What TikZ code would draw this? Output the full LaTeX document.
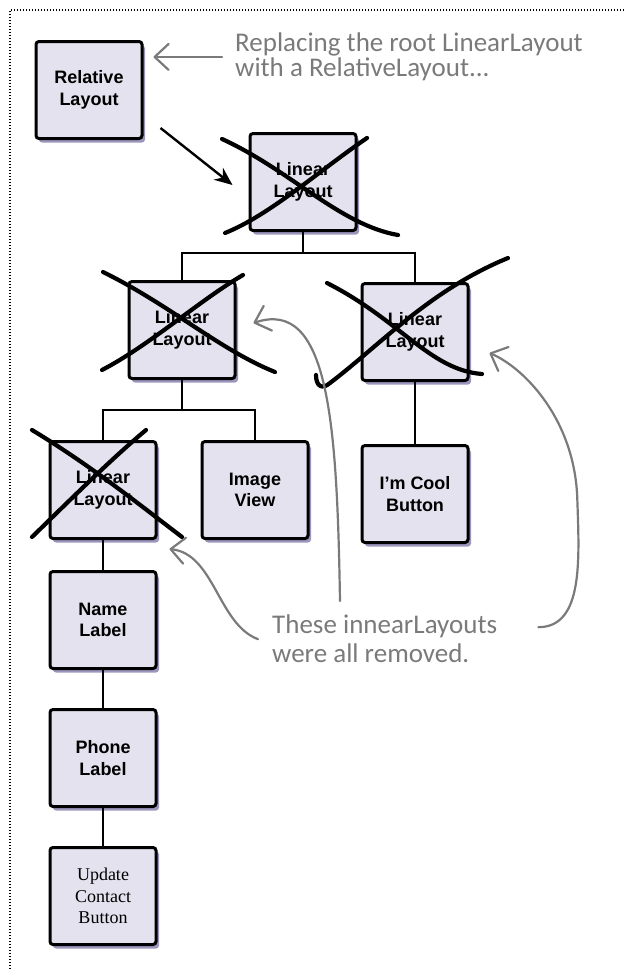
\documentclass[tikz,border=0pt]{standalone}
\usepackage{fontspec}
\setmainfont{Liberation Sans}
\newfontfamily\handfont{Carlito}
\newfontfamily\serifbox{Liberation Serif}
\usepackage{xcolor}
\usepackage{tikz}
\usetikzlibrary{arrows.meta, positioning, shadows}
\definecolor{boxfill}{HTML}{E4E2EE}
\definecolor{boxshade}{HTML}{8A84B0}
\definecolor{notegray}{HTML}{7A7A7A}
\tikzstyle{layoutbox} = [
    rectangle,
    rounded corners=3pt,
    minimum width=106pt,
    minimum height=97pt,
    inner sep=0pt,
    align=center,
    draw=black,
    line width=3pt,
    fill=boxfill,
    drop shadow={shadow xshift=3pt, shadow yshift=-4pt, fill=boxshade, opacity=0.85},
    font=\bfseries\fontsize{18}{21.5}\selectfont
]
\tikzstyle{wire} = [
    line width=1.3pt
]
\tikzstyle{arrow} = [
    line width=2.4pt,
    -{Stealth[length=18pt, width=15pt]}
]
\tikzstyle{cross} = [
    line width=4.2pt,
    line cap=round
]
\tikzstyle{note} = [
    inner sep=0pt,
    align=left,
    text=notegray,
    font=\handfont\fontsize{27}{23}\selectfont
]
\tikzstyle{notearrow} = [
    draw=notegray,
    line width=2.2pt,
    line cap=round,
    -{Straight Barb[length=14pt, width=26pt, round]}
]
\tikzstyle{border} = [
    line width=1.4pt,
    dash pattern=on 1.2pt off 1.8pt
]

\begin{document}
\begin{tikzpicture}[
    x=1pt,
    y=-1pt
]

\useasboundingbox (0,0) rectangle (625,969);

\draw [border] (10,969) -- (10,10) -- (625,10);

\node (rel) [layoutbox] at (89,90)
{Relative\\Layout};

\node (linA) [layoutbox] at (303,182)
{Linear\\Layout};

\node (linB) [layoutbox] at (182,330)
{Linear\\Layout};

\node (linC) [layoutbox] at (415,332)
{Linear\\Layout};

\node (linD) [layoutbox] at (103,490)
{Linear\\Layout};

\node (img) [layoutbox, right=43pt of linD]
{Image\\View};

\node (cool) [layoutbox, below=62pt of linC]
{I'm Cool\\Button};

\node (name) [layoutbox, below=30pt of linD]
{Name\\Label};

\node (phone) [layoutbox, below=38pt of name]
{Phone\\Label};

\node (update) [layoutbox, below=38pt of phone,
    font=\serifbox\fontsize{18}{21.5}\selectfont]
{Update\\Contact\\Button};

\node (replace) [note, anchor=north west] at (235,33)
{Replacing the root LinearLayout\\with a RelativeLayout...};

\node (removed) [note, anchor=north west, font=\handfont\fontsize{27}{29}\selectfont] at (272,615)
{These innearLayouts\\were all removed.};

% tree lines
\coordinate (forkA) at ([yshift=-21pt]linA.south);
\coordinate (forkB) at ([yshift=-30pt]linB.south);

\draw [wire] (linA.south) -- (forkA);

\draw [wire] (linB.north) |- (forkA) -| (linC.north);

\draw [wire] (linB.south) -- (forkB);

\draw [wire] (linD.north) |- (forkB) -| (img.north);

\draw [wire] (linC) -- (cool);

\draw [wire] (linD) -- (name);

\draw [wire] (name) -- (phone);

\draw [wire] (phone) -- (update);

\draw [arrow]
([shift={(17,-12)}]rel.south east) -- ([shift={(-16,3)}]linA.west);

% crossed out layouts
\draw [cross] (222,139) .. controls (290,170) and (340,225) .. (398,235);
\draw [cross] (367,138) .. controls (320,170) and (270,215) .. (225,233);

\draw [cross] (103,272) .. controls (170,305) and (220,350) .. (275,372);
\draw [cross] (243,275) .. controls (200,300) and (150,345) .. (102,370);

\draw [cross] (327,283) .. controls (400,320) and (430,370) .. (482,374);
\draw [cross] (508,258) .. controls (430,290) and (380,345) .. (330,383)
    .. controls (322,390) and (316,386) .. (316,375);

\draw [cross] (32,430) .. controls (90,465) and (140,505) .. (182,537);
\draw [cross] (146,430) .. controls (110,460) and (65,505) .. (32,537);

% notes
\draw [notearrow]
([xshift=-13pt]replace.west) -- ([xshift=10pt]rel.east |- replace.west);

\draw [notearrow]
([xshift=-14pt]removed.west) .. controls +(-40,-15) and +(45,5) .. ([shift={(12,9)}]linD.south east);

\draw [notearrow]
([shift={(68,-14)}]removed.north west) .. controls +(-3,-180) and +(75,-25) .. ([shift={(17,-7)}]linB.east);

\draw [notearrow]
([shift={(41,-12)}]removed.east) .. controls +(45,0) and +(2,60) .. +(39,-127)
    .. controls +(-2,-80) and +(35,15) .. ([shift={(20,21)}]linC.east);

\end{tikzpicture}
\end{document}
